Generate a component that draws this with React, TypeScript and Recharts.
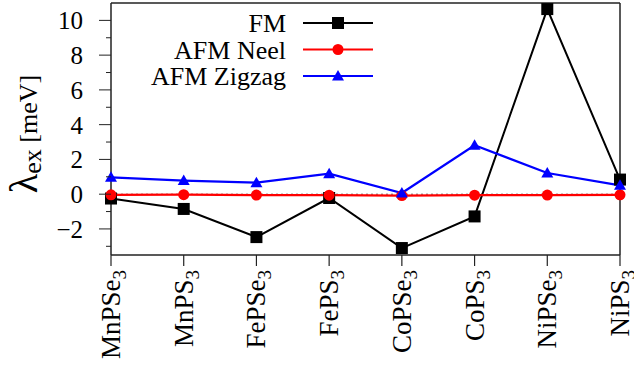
import { LineChart, Line, XAxis, YAxis, ReferenceLine } from 'recharts'

const compounds = ['MnPSe3', 'MnPS3', 'FePSe3', 'FePS3', 'CoPSe3', 'CoPS3', 'NiPSe3', 'NiPS3']
const fm = [-0.25, -0.85, -2.47, -0.22, -3.1, -1.28, 10.65, 0.84]
const afmNeel = [-0.04, -0.03, -0.05, -0.06, -0.08, -0.06, -0.05, -0.04]
const afmZigzag = [0.97, 0.78, 0.66, 1.18, 0.07, 2.81, 1.22, 0.51]
const yTicks = [-3, -2, -1, 0, 1, 2, 3, 4, 5, 6, 7, 8, 9, 10]

const seriesNames = ['FM', 'AFM Neel', 'AFM Zigzag']
const seriesColors = ['#000000', '#ff0000', '#0000ff']

const data = compounds.map((name, i) => ({
  name,
  fm: fm[i],
  neel: afmNeel[i],
  zigzag: afmZigzag[i],
}))

const FONT = '"Liberation Serif", "DejaVu Serif", serif'
const FRAME = '#222'

function Square({ cx, cy }: any) {
  return <rect x={cx - 6} y={cy - 6} width={12} height={12} fill="#000" />
}

function Circle({ cx, cy }: any) {
  return <circle cx={cx} cy={cy} r={5.5} fill="#ff0000" />
}

function Triangle({ cx, cy }: any) {
  return <polygon points={`${cx - 6},${cy + 4.5} ${cx + 6},${cy + 4.5} ${cx},${cy - 6}`} fill="#0000ff" />
}

const markers = [Square, Circle, Triangle]

function YTick({ x, y, payload }: any) {
  const major = payload.value % 2 === 0
  return (
    <g>
      <line x1={x - (major ? 12 : 5)} x2={x} y1={y} y2={y} stroke={FRAME} strokeWidth={1} />
      {major && (
        <text x={x - 28} y={y + 9} textAnchor="end" style={{ fontFamily: FONT }} fontSize={25} fill="#000">
          {payload.value < 0 ? '\u2212' + Math.abs(payload.value) : payload.value}
        </text>
      )}
    </g>
  )
}

function XTick({ x, y, payload }: any) {
  const label: string = payload.value
  const base = label.slice(0, -1)
  const sub = label.slice(-1)
  const tx = x + 9
  const ty = y + 15
  return (
    <g>
      <line x1={x} x2={x} y1={y} y2={y + 11} stroke={FRAME} strokeWidth={1.2} />
      <text transform={`translate(${tx},${ty}) rotate(-90)`} textAnchor="end" style={{ fontFamily: FONT }} fontSize={27} fill="#000">
        {base}
        <tspan fontSize={19} dy={6}>{sub}</tspan>
      </text>
    </g>
  )
}

function YLabel({ viewBox }: any) {
  const cx = viewBox.x + 37
  const cy = viewBox.y + viewBox.height / 2 + 5
  return (
    <text transform={`translate(${cx},${cy}) rotate(-90)`} textAnchor="middle" style={{ fontFamily: FONT }} fill="#000">
      <tspan fontSize={40}>λ</tspan>
      <tspan fontSize={26} dy={4}>ex</tspan>
      <tspan fontSize={26} dy={-4}> [meV]</tspan>
    </text>
  )
}

function KeyBox() {
  return (
    <g>
      {seriesNames.map((name, i) => {
        const ly = 23 + i * 26.5
        const M = markers[i]
        return (
          <g key={name}>
            <text x={286} y={ly + 9} textAnchor="end" style={{ fontFamily: FONT }} fontSize={26} fill="#000">{name}</text>
            <line x1={303} x2={373} y1={ly} y2={ly} stroke={seriesColors[i]} strokeWidth={2} />
            <M cx={338} cy={ly} />
          </g>
        )
      })}
    </g>
  )
}

export default function App() {
  return (
    <div style={{ position: 'absolute', left: 0, top: 0, background: '#fff' }}>
      <LineChart width={634} height={367} data={data} margin={{ top: 3, right: 14, left: 0, bottom: 0 }}>
        <XAxis dataKey="name" height={112} interval={0} tickSize={0} tickMargin={0}
          axisLine={{ stroke: FRAME, strokeWidth: 1.5 }} tickLine={false} tick={<XTick />} />
        <YAxis width={111} domain={[-3.5, 11]} ticks={yTicks} interval={0} tickSize={0} tickMargin={0}
          axisLine={{ stroke: FRAME, strokeWidth: 1.5 }} tickLine={false} tick={<YTick />}
          label={{ content: <YLabel /> }} allowDataOverflow />
        <ReferenceLine y={11} stroke={FRAME} strokeWidth={1.5} />
        <ReferenceLine x="NiPS3" stroke={FRAME} strokeWidth={1.5} />
        <ReferenceLine y={0} stroke="#666" strokeWidth={1} strokeDasharray="2 3" />
        <Line dataKey="fm" stroke="#000" strokeWidth={2} dot={<Square />} activeDot={false} isAnimationActive={false} />
        <Line dataKey="neel" stroke="#ff0000" strokeWidth={2.2} dot={<Circle />} activeDot={false} isAnimationActive={false} />
        <Line dataKey="zigzag" stroke="#0000ff" strokeWidth={2.2} dot={<Triangle />} activeDot={false} isAnimationActive={false} />
        <KeyBox />
      </LineChart>
    </div>
  )
}
